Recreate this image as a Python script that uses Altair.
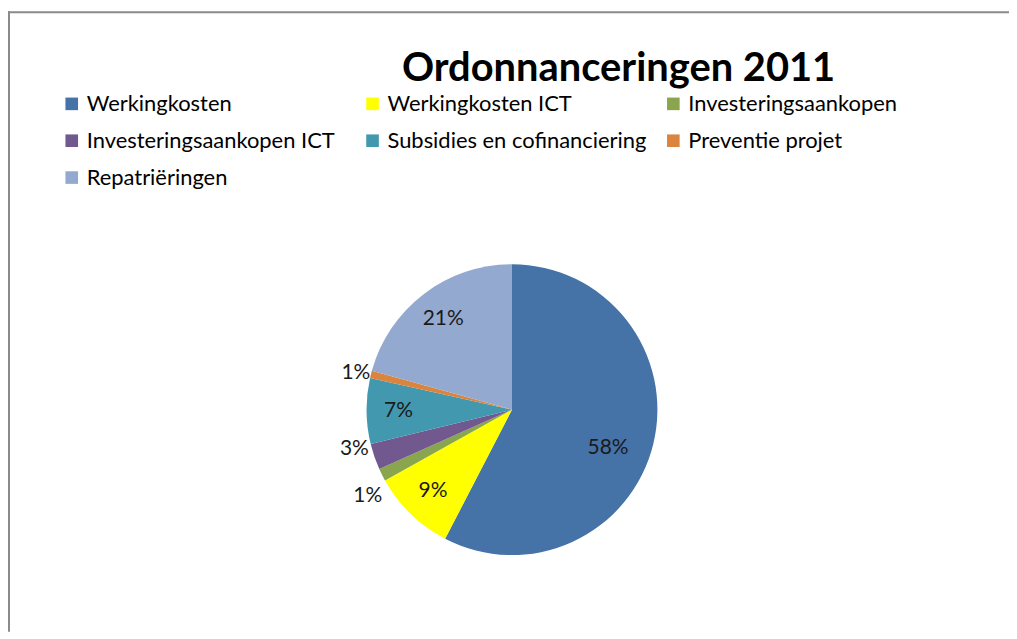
import altair as alt
import pandas as pd

title_text = "Ordonnanceringen 2011"
categories = [
    "Werkingkosten",
    "Werkingkosten ICT",
    "Investeringsaankopen",
    "Investeringsaankopen ICT",
    "Subsidies en cofinanciering",
    "Preventie projet",
    "Repatriëringen",
]
values = [57.6, 9.3, 1.4, 2.9, 7.3, 0.8, 20.7]
colors = ["#4572A7", "#FFFF00", "#89A54E", "#71588F", "#4198AF", "#DB843D", "#93A9CF"]

df = pd.DataFrame({"cat": categories, "v": values, "idx": list(range(len(categories)))})

W, H = 1005, 625
CX, CY = 506, 402
R = 146
FONT = "Lato"
LABEL_COLOR = "#1a1a1a"

base = alt.Chart(df).transform_calculate(lab="format(datum.v / 100, '.0%')")

color = alt.Color(
    "cat:N",
    scale=alt.Scale(domain=categories, range=colors),
    legend=alt.Legend(
        orient="none",
        direction="horizontal",
        legendX=53,
        legendY=84,
        columns=3,
        gridAlign="all",
        columnPadding=15,
        rowPadding=15,
        symbolType="square",
        symbolSize=160,
        symbolStrokeWidth=0,
        symbolOpacity=1,
        labelFont=FONT,
        labelFontSize=22,
        labelColor="#000000",
        labelOffset=4,
        labelLimit=400,
        title=None,
    ),
)

pie = base.mark_arc(outerRadius=R, stroke=None).encode(
    theta=alt.Theta("v:Q", stack=True),
    color=color,
    order=alt.Order("idx:Q"),
    x=alt.value(CX),
    y=alt.value(CY),
)


def label_layer(cond, radius, theta_offset):
    return base.transform_calculate(t=f"({cond}) ? datum.lab : ''").mark_text(
        radius=radius, thetaOffset=theta_offset, font=FONT, fontSize=21, color=LABEL_COLOR
    ).encode(
        theta=alt.Theta("v:Q", stack=True),
        text="t:N",
        order=alt.Order("idx:Q"),
        x=alt.value(CX),
        y=alt.value(CY),
    )


labels = [
    label_layer("datum.idx == 0", 104, 0.143),
    label_layer("datum.idx == 1 || datum.idx == 4 || datum.idx == 6", 114, 0),
    label_layer("datum.idx == 2", 169, -0.077),
    label_layer("datum.idx == 3", 163, 0.087),
    label_layer("datum.idx == 5", 161, -0.016),
]

title = alt.Chart(pd.DataFrame({"t": [title_text]})).mark_text(
    font=FONT, fontSize=40, fontWeight="bold", align="center", baseline="alphabetic", color="#000000"
).encode(text="t:N", x=alt.value(613), y=alt.value(72))

frame_df = pd.DataFrame({"k": [0]})
left_line = alt.Chart(frame_df).mark_rule(color="#8a8a8a", strokeWidth=2).encode(
    x=alt.value(1), y=alt.value(2), y2=alt.value(H)
)
top_line = alt.Chart(frame_df).mark_rule(color="#8a8a8a", strokeWidth=2).encode(
    x=alt.value(0), x2=alt.value(W), y=alt.value(3)
)

chart = alt.layer(left_line, top_line, pie, *labels, title).properties(
    width=W, height=H, padding=0, autosize=alt.AutoSizeParams(type="none"), background="white"
).configure_view(stroke=None)

chart.save("out.html", embed_options={"renderer": "svg", "actions": False})
